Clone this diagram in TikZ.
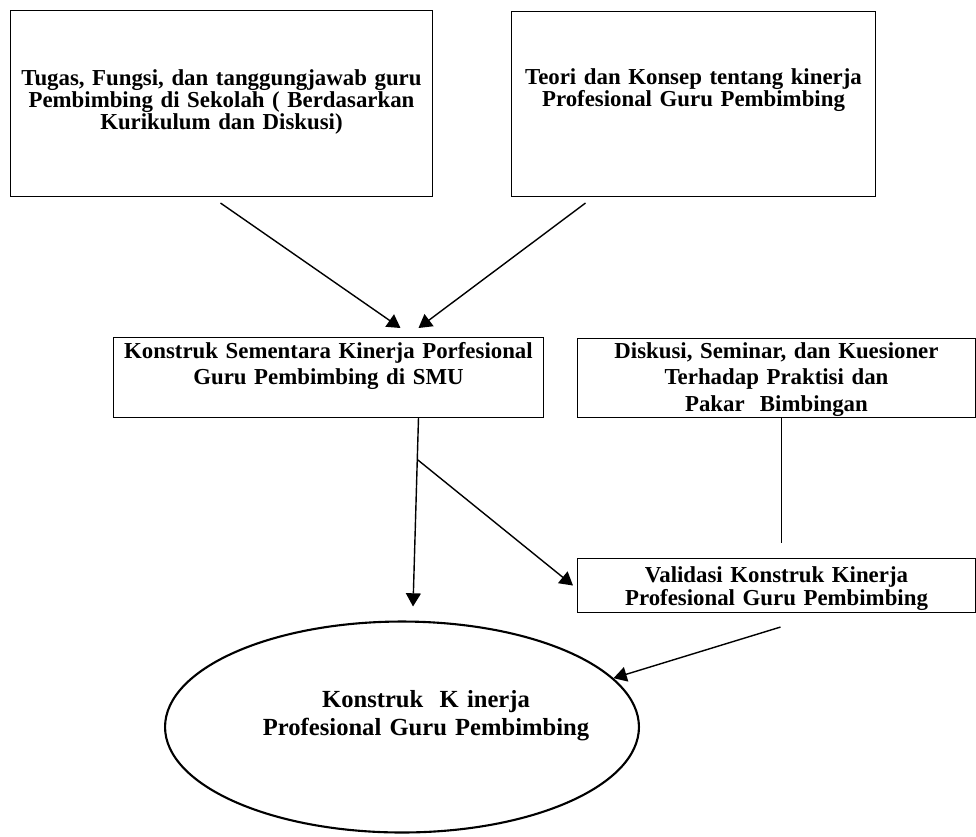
\documentclass[tikz,border=0pt]{standalone}
\usepackage{fontspec}
\setmainfont{Liberation Serif}
\usetikzlibrary{arrows.meta,calc,shapes.geometric}

\begin{document}
\begin{tikzpicture}[x=0.02cm, y=-0.02cm,
    font=\bfseries\fontsize{13}{12.4}\selectfont,
    kotak/.style={draw, line width=0.6pt, anchor=north west, inner sep=0pt, align=center},
    panah/.style={-{Triangle[length=7.5pt,width=8.5pt]}, line width=0.8pt}]
  \path[use as bounding box] (0,0) rectangle (976,836);

  % kotak atas
  \node[kotak, text width=8.44cm, text height=1.5cm, text depth=2.22cm] (tugas) at (10,10)
    {Tugas, Fungsi, dan tanggungjawab guru\\Pembimbing di Sekolah ( Berdasarkan\\Kurikulum dan Diskusi)};
  \node[kotak, text width=7.28cm, text height=1.46cm, text depth=2.24cm] (teori) at (511,11)
    {Teori dan Konsep tentang kinerja\\Profesional Guru Pembimbing};

  % kotak tengah
  \node[kotak, text width=8.6cm, text height=0.42cm, text depth=1.18cm,
        font=\bfseries\fontsize{13}{15}\selectfont] (sementara) at (113,337)
    {Konstruk Sementara Kinerja Porfesional\\Guru Pembimbing di SMU};
  \node[kotak, text width=7.96cm, text height=0.40cm, text depth=1.18cm,
        font=\bfseries\fontsize{13}{15}\selectfont] (diskusi) at (577,338)
    {Diskusi, Seminar, dan Kuesioner\\Terhadap Praktisi dan\\Pakar\ \ Bimbingan};
  \node[kotak, text width=7.96cm, text height=0.48cm, text depth=0.60cm,
        font=\bfseries\fontsize{13}{13.3}\selectfont] (validasi) at (577,558)
    {Validasi Konstruk Kinerja\\Profesional Guru Pembimbing};

  % hasil akhir
  \node[draw, ellipse, line width=1.2pt, minimum width=9.48cm, minimum height=4.22cm,
        inner sep=0pt] (konstruk) at (402,727) {};
  \node[text width=8cm, align=center, anchor=base,
        font=\bfseries\fontsize{14}{16}\selectfont] (konstrukteks) at (426,707)
    {Konstruk\ \ K inerja\\Profesional Guru Pembimbing};

  \draw[panah] ($(tugas.south)+(-1,6)$) -- ($(sementara.north)+(72,-9)$);
  \draw[panah] ($(teori.south)+(-108,6)$) -- ($(sementara.north)+(90,-9)$);
  \draw[panah] ($(sementara.south)+(90,0)$) -- coordinate[pos=0.22] (cabang)
    ($(konstruk.north)+(11,-14)$);
  \draw[panah] (cabang) -- ($(validasi.west)+(-4,0)$);
  \draw[line width=0.8pt] ($(diskusi.south)+(5,0)$) -- ($(validasi.north)+(5,-15)$);
  \draw[panah] ($(validasi.south)+(4,14)$) -- (konstruk.13);
\end{tikzpicture}
\end{document}
